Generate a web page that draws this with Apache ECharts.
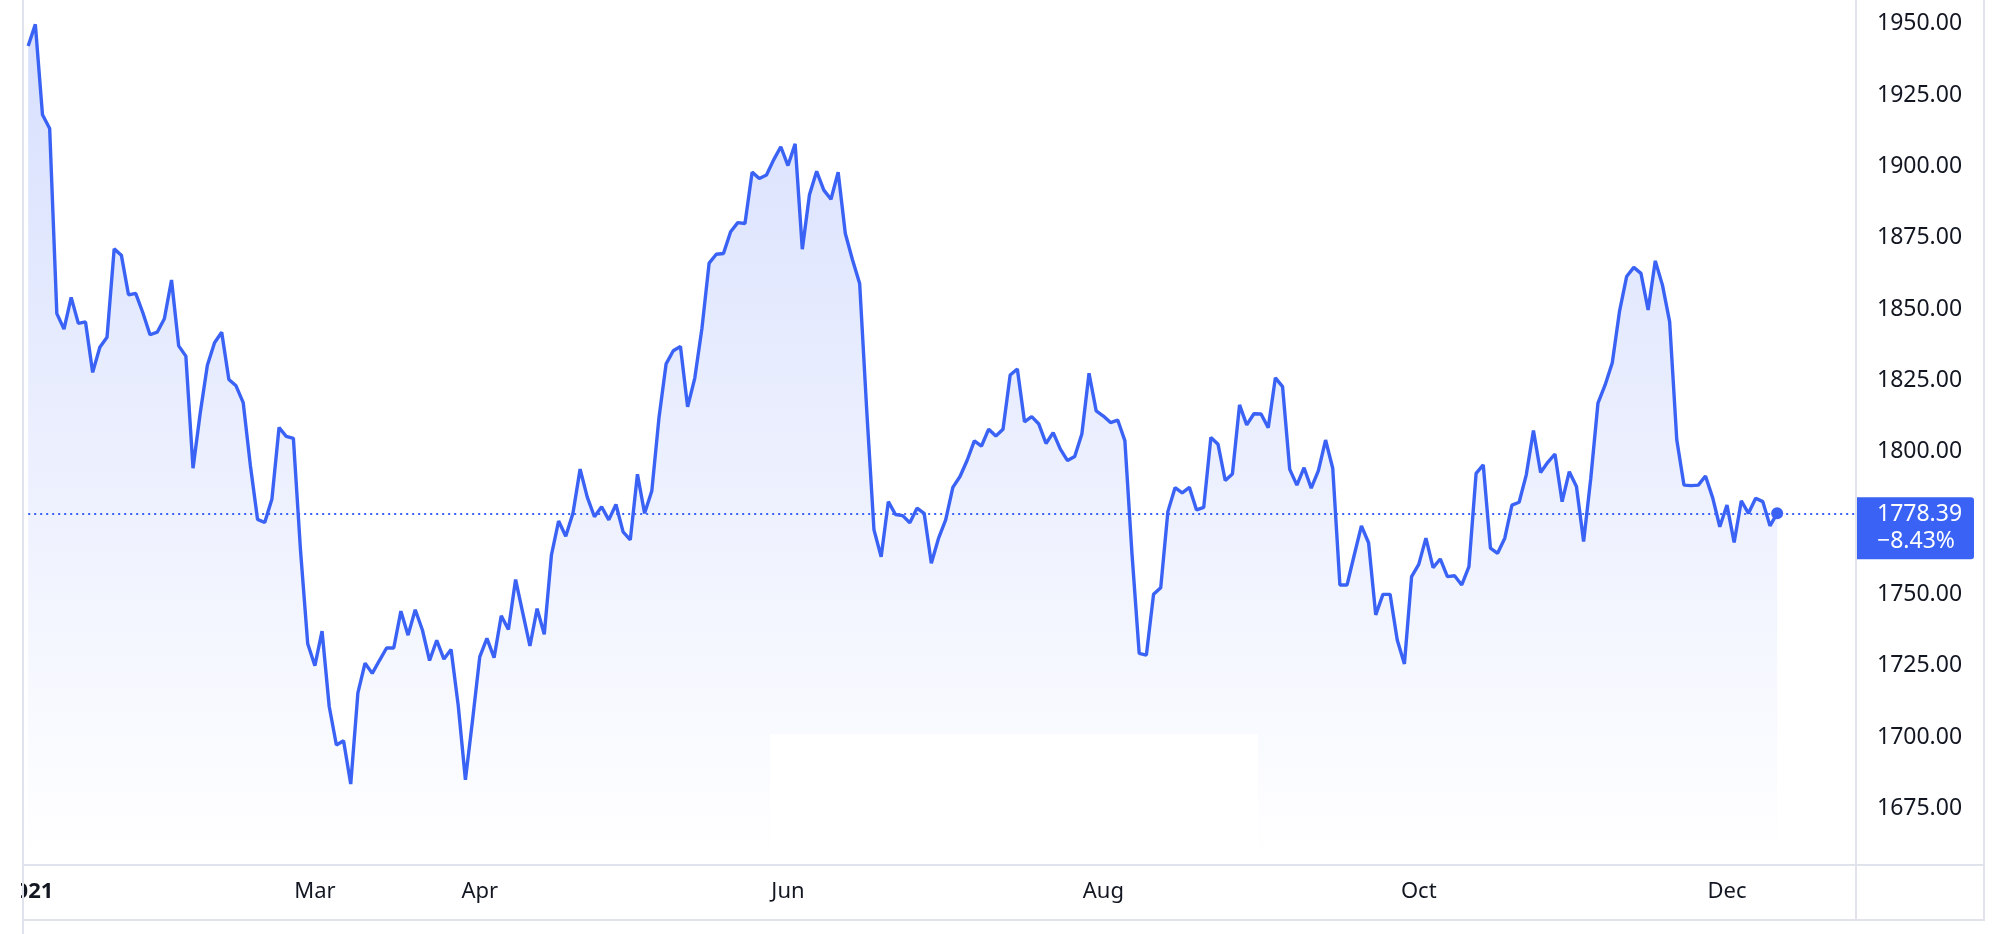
<!DOCTYPE html>
<html>
<head>
    <meta charset="utf-8">
    <title>Gold 2021</title>
    <script src="https://cdn.jsdelivr.net/npm/echarts@6.0.0/dist/echarts.min.js"></script>
    <style>
        html, body { margin: 0; padding: 0; background: #fff; }
        #main { width: 2004px; height: 934px; }
    </style>
</head>
<body>
    <div id="main"></div>
    <script type="text/javascript">
        // daily closes, 4 Jan 2021 .. 10 Dec 2021 (weekdays)
        var closes = [
            1942.2, 1949.8, 1918.1, 1913.3, 1848.4, 1843.0, 1854.1, 1845.0, 1845.5, 1827.8,
            1836.6, 1840.1, 1871.1, 1868.9, 1855.0, 1855.5, 1848.7, 1841.0, 1841.9, 1846.6,
            1860.2, 1837.1, 1833.5, 1794.2, 1813.5, 1830.3, 1838.2, 1841.9, 1825.3, 1823.1,
            1817.2, 1795.2, 1776.3, 1775.2, 1783.3, 1808.5, 1805.4, 1804.7, 1765.2, 1732.7,
            1725.0, 1737.1, 1710.7, 1697.2, 1698.7, 1683.5, 1715.5, 1725.9, 1722.3, 1726.8,
            1731.2, 1731.2, 1744.1, 1735.7, 1744.6, 1737.5, 1726.8, 1733.9, 1727.3, 1730.7,
            1711.0, 1685.0, 1706.0, 1728.1, 1734.6, 1727.8, 1742.5, 1737.7, 1755.2, 1743.5,
            1731.9, 1745.0, 1736.0, 1763.8, 1775.7, 1770.4, 1778.4, 1793.9, 1784.1, 1777.2,
            1780.7, 1776.1, 1781.5, 1771.9, 1769.1, 1792.1, 1778.4, 1786.2, 1811.8, 1830.8,
            1835.4, 1836.9, 1815.7, 1825.8, 1843.3, 1866.1, 1869.2, 1869.5, 1877.1, 1880.3,
            1880.0, 1898.0, 1895.8, 1897.0, 1902.3, 1906.9, 1900.3, 1907.9, 1871.0, 1890.1,
            1898.3, 1891.7, 1888.5, 1898.0, 1876.5, 1867.3, 1859.0, 1814.0, 1772.6, 1763.2,
            1782.5, 1778.0, 1777.6, 1775.1, 1780.2, 1778.4, 1760.9, 1769.6, 1776.1, 1787.5,
            1791.3, 1797.0, 1803.8, 1802.0, 1807.9, 1805.5, 1807.9, 1826.9, 1829.0, 1810.5,
            1812.3, 1809.7, 1802.9, 1806.7, 1800.9, 1796.9, 1798.3, 1806.2, 1827.5, 1814.3,
            1812.5, 1810.2, 1811.1, 1803.9, 1764.0, 1729.3, 1728.7, 1750.0, 1752.3, 1779.0,
            1787.4, 1785.6, 1787.5, 1779.6, 1780.5, 1805.0, 1802.6, 1789.9, 1792.2, 1816.4,
            1809.4, 1813.3, 1813.2, 1808.4, 1825.9, 1822.8, 1793.8, 1788.3, 1794.4, 1787.2,
            1793.4, 1804.1, 1794.2, 1753.3, 1753.3, 1763.8, 1774.0, 1768.1, 1742.8, 1750.0,
            1750.0, 1734.0, 1725.6, 1756.2, 1760.5, 1769.7, 1759.4, 1762.4, 1756.2, 1756.5,
            1753.3, 1759.7, 1792.4, 1795.4, 1766.2, 1764.4, 1769.7, 1781.3, 1782.3, 1791.9,
            1807.4, 1792.7, 1796.3, 1799.2, 1782.5, 1793.0, 1787.8, 1768.5, 1790.7, 1817.0,
            1823.4, 1831.2, 1849.1, 1861.4, 1864.6, 1862.5, 1849.7, 1866.9, 1858.4, 1845.6,
            1804.1, 1788.3, 1788.1, 1788.3, 1791.5, 1783.9, 1773.7, 1781.3, 1768.2, 1782.8,
            1778.4, 1783.7, 1782.5, 1774.0, 1778.39
        ];
        var lastPrice = 1778.39;
        var lastChange = '\u22128.43%';

        // 1775 is hidden behind the price tag
        var priceTicks = [1675, 1700, 1725, 1750, 1800, 1825, 1850, 1875, 1900, 1925, 1950];
        var monthTicks = ['2021-01-04', '2021-03-01', '2021-04-01', '2021-06-01', '2021-08-02', '2021-10-01', '2021-12-01'];
        var monthNames = ['2021', 'Mar', 'Apr', 'Jun', 'Aug', 'Oct', 'Dec'];
        var emptyDaysAfter = 11; // blank space right of last bar

        var BLUE = '#3A63F5';
        var GRID_LINE = '#e0e3eb';
        var TEXT = '#131722';
        var FONT = 'Noto Sans';

        // weekday categories
        var dates = [];
        var d = new Date(Date.UTC(2021, 0, 4));
        while (dates.length < closes.length + emptyDaysAfter) {
            var wd = d.getUTCDay();
            if (wd !== 0 && wd !== 6) {
                dates.push(d.toISOString().slice(0, 10));
            }
            d.setUTCDate(d.getUTCDate() + 1);
        }

        var myChart = echarts.init(document.getElementById('main'));

        var option = {
            animation: false,
            backgroundColor: '#ffffff',
            textStyle: { fontFamily: FONT },
            grid: { left: 24, right: 148, top: 0, bottom: 70, containLabel: false },
            xAxis: {
                type: 'category',
                boundaryGap: false,
                data: dates,
                axisLine: { show: false },
                axisTick: { show: false },
                splitLine: { show: false },
                axisLabel: {
                    interval: function (idx, val) { return monthTicks.indexOf(val) >= 0; },
                    formatter: function (val) {
                        var k = monthTicks.indexOf(val);
                        if (k < 0) return '';
                        // year boundary is drawn bold
                        return k === 0 ? '{y|' + monthNames[k] + '}' : monthNames[k];
                    },
                    margin: 17,
                    lineHeight: 22,
                    fontSize: 22,
                    color: TEXT,
                    fontFamily: FONT,
                    rich: {
                        y: { fontSize: 22, fontWeight: 'bold', color: TEXT, fontFamily: FONT, lineHeight: 22 }
                    }
                }
            },
            yAxis: {
                type: 'value',
                position: 'right',
                min: 1655.48,
                max: 1958.34,
                axisLine: { show: false },
                axisTick: { show: false },
                splitLine: { show: false },
                axisLabel: {
                    customValues: priceTicks,
                    formatter: function (v) { return v.toFixed(2); },
                    margin: 21,
                    fontSize: 23,
                    color: TEXT,
                    fontFamily: FONT
                }
            },
            series: [
                {
                    name: 'Gold',
                    type: 'line',
                    data: closes,
                    showSymbol: false,
                    symbol: 'none',
                    lineStyle: { color: BLUE, width: 3.4 },
                    areaStyle: {
                        origin: 'start',
                        color: new echarts.graphic.LinearGradient(0, 0, 0, 1, [
                            { offset: 0, color: 'rgba(58,99,245,0.29)' },
                            { offset: 0.96, color: 'rgba(58,99,245,0.01)' },
                            { offset: 1, color: 'rgba(58,99,245,0)' }
                        ])
                    },
                    markLine: {
                        silent: true,
                        symbol: 'none',
                        label: { show: false },
                        lineStyle: { color: BLUE, width: 2, type: [2, 4] },
                        data: [{ yAxis: lastPrice }]
                    },
                    markPoint: {
                        silent: true,
                        symbol: 'circle',
                        symbolSize: 12,
                        itemStyle: { color: BLUE },
                        label: { show: false },
                        data: [{ coord: [closes.length - 1, lastPrice] }]
                    }
                }
            ]
        };
        myChart.setOption(option);

        // frame lines, left clip and the price tag on the right scale
        var lastY = myChart.convertToPixel({ yAxisIndex: 0 }, lastPrice);
        var scaleX = myChart.convertToPixel({ xAxisIndex: 0 }, dates[dates.length - 1]);
        myChart.setOption({
            graphic: [
                { type: 'rect', z: 50, shape: { x: 770, y: 734, width: 488, height: 118 }, style: { fill: '#ffffff' } },
                { type: 'rect', z: 60, shape: { x: 0, y: 0, width: 21, height: 934 }, style: { fill: '#ffffff' } },
                { type: 'line', z: 70, shape: { x1: 23, y1: 0, x2: 23, y2: 934 }, style: { stroke: GRID_LINE, lineWidth: 2 } },
                { type: 'line', z: 70, shape: { x1: 23, y1: 865, x2: 1985, y2: 865 }, style: { stroke: GRID_LINE, lineWidth: 2 } },
                { type: 'line', z: 70, shape: { x1: 23, y1: 920, x2: 1985, y2: 920 }, style: { stroke: GRID_LINE, lineWidth: 2 } },
                { type: 'line', z: 70, shape: { x1: scaleX, y1: 0, x2: scaleX, y2: 920 }, style: { stroke: GRID_LINE, lineWidth: 2 } },
                { type: 'line', z: 70, shape: { x1: 1984, y1: 0, x2: 1984, y2: 920 }, style: { stroke: GRID_LINE, lineWidth: 2 } },
                {
                    type: 'group', zlevel: 1,
                    children: [
                        { type: 'rect', shape: { x: scaleX, y: lastY - 16, width: 118, height: 62, r: [0, 3, 3, 0] }, style: { fill: BLUE } },
                        { type: 'text', style: { x: scaleX + 21, y: lastY + 1, text: lastPrice.toFixed(2), fill: '#ffffff', font: '23px "Noto Sans"', verticalAlign: 'middle' } },
                        { type: 'text', style: { x: scaleX + 21, y: lastY + 28, text: lastChange, fill: '#ffffff', font: '23px "Noto Sans"', verticalAlign: 'middle' } }
                    ]
                }
            ]
        });
    </script>
</body>
</html>
